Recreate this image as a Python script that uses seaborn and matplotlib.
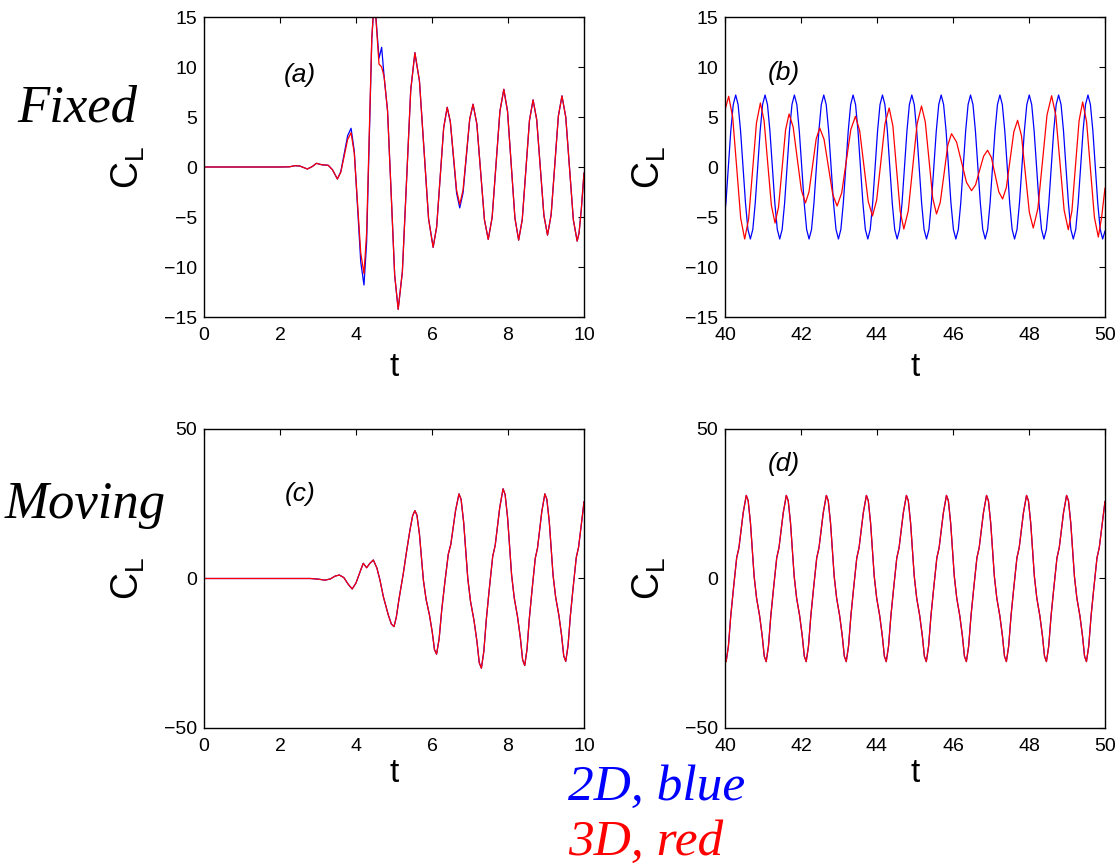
import numpy as np
import matplotlib
matplotlib.use("Agg")
import matplotlib.pyplot as plt
import seaborn as sns

# ---------------------------------------------------------------------------
# Lift coefficient C_L versus time t
# ---------------------------------------------------------------------------

# (a) fixed cylinder, start-up  (0 <= t <= 10)
a_t = [0.0, 1.0, 2.0, 2.25, 2.39, 2.52, 2.72, 2.85, 2.96, 3.09,
       3.27, 3.38, 3.51, 3.60, 3.69, 3.78, 3.87, 3.955, 4.04, 4.125,
       4.21, 4.279, 4.348, 4.416, 4.485, 4.605, 4.675, 4.74, 4.83, 4.925,
       5.018, 5.11, 5.22, 5.33, 5.44, 5.55, 5.67, 5.79, 5.91, 6.03,
       6.1225, 6.215, 6.3075, 6.40, 6.4825, 6.565, 6.6475, 6.73, 6.8175, 6.905,
       6.9925, 7.08, 7.18, 7.28, 7.38, 7.48, 7.5825, 7.685, 7.7875, 7.89,
       7.9875, 8.085, 8.1825, 8.28, 8.375, 8.47, 8.565, 8.66, 8.755, 8.85,
       8.945, 9.04, 9.135, 9.23, 9.325, 9.42, 9.52, 9.62, 9.72, 9.82,
       9.87, 9.93, 10.0]
a_2d = [0.0, 0.0, 0.0, 0.02, 0.13, 0.10, -0.20, 0.05, 0.37, 0.23,
        0.17, -0.27, -1.2, -0.46, 1.33, 3.13, 3.87, 1.58, -3.97, -9.51,
        -11.8, -7.6, 2.6, 12.8, 17.0, 10.87, 11.97, 9.03, 5.63, -2.6,
        -10.83, -14.23, -10.48, -1.4, 7.68, 11.43, 8.59, 1.7, -5.19, -8.03,
        -5.99, -1.03, 3.93, 5.97, 4.5, 0.94, -2.62, -4.09, -2.58, 1.1,
        4.77, 6.28, 4.31, -0.48, -5.27, -7.24, -5.05, 0.27, 5.58, 7.77,
        5.57, 0.23, -5.11, -7.31, -5.26, -0.3, 4.66, 6.71, 4.74, -0.05,
        -4.84, -6.81, -4.78, 0.15, 5.08, 7.11, 4.99, -0.15, -5.29, -7.41,
        -6.6, -4.2, -0.6]
a_3d = [0.0, 0.0, 0.0, 0.02, 0.13, 0.10, -0.20, 0.05, 0.37, 0.23,
        0.17, -0.27, -1.2, -0.52, 1.1, 2.75, 3.43, 1.37, -3.62, -8.61,
        -10.67, -6.63, 3.17, 12.96, 17.0, 10.3, 10.0, 9.03, 5.63, -2.6,
        -10.83, -14.23, -10.48, -1.4, 7.68, 11.43, 8.59, 1.7, -5.19, -8.03,
        -5.99, -1.03, 3.93, 5.97, 4.55, 1.11, -2.33, -3.75, -2.29, 1.27,
        4.82, 6.28, 4.31, -0.48, -5.27, -7.24, -5.05, 0.27, 5.58, 7.77,
        5.57, 0.23, -5.11, -7.31, -5.26, -0.3, 4.66, 6.71, 4.74, -0.05,
        -4.84, -6.81, -4.78, 0.15, 5.08, 7.11, 4.99, -0.15, -5.29, -7.41,
        -6.6, -4.2, -0.6]

# (b) fixed cylinder, late time  (40 <= t <= 50)
b_t_2d = [40.0, 40.024, 40.088, 40.152, 40.217,
          40.281, 40.345, 40.410, 40.474, 40.539, 40.603,
          40.667, 40.732, 40.796, 40.860, 40.925, 40.989,
          41.054, 41.118, 41.182, 41.247, 41.311, 41.376,
          41.440, 41.504, 41.569, 41.633, 41.697, 41.762,
          41.826, 41.891, 41.955, 42.019, 42.084, 42.148,
          42.212, 42.277, 42.341, 42.406, 42.470, 42.534,
          42.599, 42.663, 42.728, 42.792, 42.856, 42.921,
          42.985, 43.049, 43.114, 43.178, 43.243, 43.307,
          43.371, 43.436, 43.500, 43.564, 43.629, 43.693,
          43.758, 43.822, 43.886, 43.951, 44.015, 44.079,
          44.144, 44.208, 44.273, 44.337, 44.401, 44.466,
          44.530, 44.594, 44.659, 44.723, 44.788, 44.852,
          44.916, 44.981, 45.045, 45.110, 45.174, 45.238,
          45.303, 45.367, 45.431, 45.496, 45.560, 45.625,
          45.689, 45.753, 45.818, 45.882, 45.946, 46.011,
          46.075, 46.140, 46.204, 46.268, 46.333, 46.397,
          46.461, 46.526, 46.590, 46.655, 46.719, 46.783,
          46.848, 46.912, 46.976, 47.041, 47.105, 47.170,
          47.234, 47.298, 47.363, 47.427, 47.492, 47.556,
          47.620, 47.685, 47.749, 47.813, 47.878, 47.942,
          48.007, 48.071, 48.135, 48.200, 48.264, 48.329,
          48.393, 48.457, 48.522, 48.586, 48.650, 48.715,
          48.779, 48.844, 48.908, 48.972, 49.037, 49.101,
          49.166, 49.230, 49.294, 49.359, 49.423, 49.487,
          49.552, 49.616, 49.681, 49.745, 49.809, 49.874,
          49.938, 50.0]
b_2d = [-4.4, -3.6, 0.0, 3.6, 6.24,
        7.2, 6.24, 3.6, 0.0, -3.6, -6.24,
        -7.2, -6.24, -3.6, 0.0, 3.6, 6.24,
        7.2, 6.24, 3.6, 0.0, -3.6, -6.24,
        -7.2, -6.24, -3.6, 0.0, 3.6, 6.24,
        7.2, 6.24, 3.6, 0.0, -3.6, -6.24,
        -7.2, -6.24, -3.6, 0.0, 3.6, 6.24,
        7.2, 6.24, 3.6, 0.0, -3.6, -6.24,
        -7.2, -6.24, -3.6, 0.0, 3.6, 6.24,
        7.2, 6.24, 3.6, 0.0, -3.6, -6.24,
        -7.2, -6.24, -3.6, 0.0, 3.6, 6.24,
        7.2, 6.24, 3.6, 0.0, -3.6, -6.24,
        -7.2, -6.24, -3.6, 0.0, 3.6, 6.24,
        7.2, 6.24, 3.6, 0.0, -3.6, -6.24,
        -7.2, -6.24, -3.6, 0.0, 3.6, 6.24,
        7.2, 6.24, 3.6, 0.0, -3.6, -6.24,
        -7.2, -6.24, -3.6, 0.0, 3.6, 6.24,
        7.2, 6.24, 3.6, 0.0, -3.6, -6.24,
        -7.2, -6.24, -3.6, 0.0, 3.6, 6.24,
        7.2, 6.24, 3.6, 0.0, -3.6, -6.24,
        -7.2, -6.24, -3.6, 0.0, 3.6, 6.24,
        7.2, 6.24, 3.6, 0.0, -3.6, -6.24,
        -7.2, -6.24, -3.6, 0.0, 3.6, 6.24,
        7.2, 6.24, 3.6, 0.0, -3.6, -6.24,
        -7.2, -6.24, -3.6, 0.0, 3.6, 6.24,
        7.2, 6.24, 3.6, 0.0, -3.6, -6.24,
        -7.2, -6.4]
b_t_3d = [40.0, 40.097, 40.202, 40.308, 40.413, 40.518, 40.621, 40.725, 40.828,
          40.931, 41.028, 41.124, 41.221, 41.317, 41.409, 41.502, 41.594,
          41.686, 41.794, 41.901, 42.009, 42.116, 42.210, 42.305, 42.399,
          42.493, 42.607, 42.722, 42.836, 42.950, 43.071, 43.192, 43.312,
          43.433, 43.545, 43.657, 43.769, 43.881, 43.991, 44.101, 44.210,
          44.320, 44.417, 44.513, 44.610, 44.706, 44.822, 44.939, 45.055,
          45.171, 45.270, 45.369, 45.467, 45.566, 45.665, 45.764, 45.862,
          45.961, 46.093, 46.225, 46.356, 46.488, 46.594, 46.699, 46.805,
          46.910, 47.009, 47.108, 47.206, 47.305, 47.404, 47.503, 47.601,
          47.700, 47.803, 47.906, 48.009, 48.112, 48.233, 48.354, 48.474,
          48.595, 48.705, 48.815, 48.924, 49.034, 49.129, 49.223, 49.318,
          49.412, 49.515, 49.618, 49.721, 49.824, 49.912, 50.0]
b_3d = [5.7, 7.07, 4.99, -0.07, -5.12, -7.2, -5.21, -0.4, 4.41,
        6.4, 4.65, 0.4, -3.85, -5.6, -4.01, -0.15, 3.71,
        5.3, 4.0, 0.85, -2.3, -3.6, -2.5, 0.15, 2.8,
        3.9, 2.76, 0.0, -2.76, -3.9, -2.59, 0.59, 3.76,
        5.07, 3.61, 0.09, -3.44, -4.9, -3.32, 0.5, 4.32,
        5.9, 4.13, -0.15, -4.43, -6.2, -4.4, -0.05, 4.3,
        6.1, 4.52, 0.7, -3.12, -4.7, -3.53, -0.69, 2.16,
        3.33, 2.5, 0.48, -1.54, -2.37, -1.78, -0.35, 1.08,
        1.67, 0.96, -0.77, -2.49, -3.2, -2.05, 0.74, 3.52,
        4.67, 3.1, -0.72, -4.53, -6.1, -4.17, 0.52, 5.2,
        7.13, 5.17, 0.43, -4.31, -6.27, -4.41, 0.12, 4.63,
        6.5, 4.53, -0.25, -5.03, -7.0, -5.0, -2.1]

# (c) moving cylinder, start-up  (0 <= t <= 10); 2D and 3D coincide
c_t = [0.0, 1.0, 2.0, 2.8, 3.0, 3.18, 3.32, 3.45, 3.56, 3.68,
       3.80, 3.90, 4.00, 4.10, 4.19, 4.28, 4.36, 4.456, 4.55, 4.63,
       4.72, 4.85, 4.93, 5.0, 5.06, 5.13, 5.245, 5.33, 5.42, 5.49,
       5.55, 5.604, 5.67, 5.774, 5.844, 5.933, 6.007, 6.065, 6.12, 6.187,
       6.255, 6.331, 6.429, 6.495, 6.62, 6.71, 6.766, 6.834, 6.942, 7.014,
       7.106, 7.183, 7.243, 7.30, 7.364, 7.43, 7.504, 7.598, 7.663, 7.783,
       7.87, 7.924, 7.99, 8.094, 8.164, 8.253, 8.327, 8.385, 8.44, 8.50,
       8.561, 8.63, 8.717, 8.777, 8.889, 8.97, 9.022, 9.086, 9.186, 9.254,
       9.34, 9.411, 9.467, 9.52, 9.58, 9.641, 9.71, 9.797, 9.857, 9.969,
       10.0]
c_2d = [0.0, 0.0, 0.0, 0.0, -0.2, -0.55, -0.17, 0.8, 1.17, 0.3,
        -2.0, -3.5, -1.5, 2.0, 5.08, 3.6, 5.0, 6.19, 3.5, -0.5,
        -6.1, -12.2, -15.2, -16.1, -13.0, -7.0, 1.7, 9.0, 16.2, 21.0,
        22.7, 21.16, 14.78, -0.63, -6.92, -12.2, -17.96, -23.76, -25.3, -20.26,
        -10.67, -2.04, 8.15, 11.42, 22.73, 28.3, 26.43, 18.68, -0.03, -7.67,
        -14.08, -21.08, -28.13, -30.0, -24.36, -13.62, -3.96, 7.44, 11.1, 23.76,
        30.0, 28.11, 20.25, 1.28, -6.46, -12.97, -20.06, -27.21, -29.1, -23.7,
        -13.43, -4.19, 6.72, 10.22, 22.33, 28.3, 26.51, 19.06, 1.08, -6.25,
        -12.41, -19.13, -25.91, -27.7, -22.46, -12.49, -3.53, 7.06, 10.45, 22.2,
        25.7]
c_3d = list(c_2d)

# (d) moving cylinder, late time  (40 <= t <= 50); 2D and 3D coincide
d_t = [40.000,
       40.030, 40.090, 40.151, 40.220, 40.307, 40.367, 40.479, 40.560,
       40.610, 40.670, 40.766, 40.830, 40.912, 40.980, 41.033,
       41.084, 41.144, 41.205, 41.274, 41.361, 41.421, 41.533, 41.614,
       41.664, 41.724, 41.820, 41.884, 41.966, 42.034, 42.087,
       42.137, 42.197, 42.258, 42.327, 42.414, 42.474, 42.586, 42.667,
       42.717, 42.777, 42.873, 42.937, 43.019, 43.087, 43.140,
       43.191, 43.251, 43.312, 43.381, 43.468, 43.528, 43.640, 43.721,
       43.771, 43.831, 43.927, 43.991, 44.073, 44.141, 44.194,
       44.244, 44.304, 44.365, 44.434, 44.521, 44.581, 44.693, 44.774,
       44.824, 44.884, 44.980, 45.044, 45.126, 45.194, 45.247,
       45.298, 45.358, 45.419, 45.488, 45.575, 45.635, 45.747, 45.828,
       45.878, 45.938, 46.034, 46.098, 46.180, 46.248, 46.301,
       46.352, 46.412, 46.473, 46.542, 46.629, 46.689, 46.801, 46.882,
       46.932, 46.992, 47.088, 47.152, 47.234, 47.302, 47.355,
       47.405, 47.465, 47.526, 47.595, 47.682, 47.742, 47.854, 47.935,
       47.985, 48.045, 48.141, 48.205, 48.287, 48.355, 48.408,
       48.459, 48.519, 48.580, 48.649, 48.736, 48.796, 48.908, 48.989,
       49.039, 49.099, 49.195, 49.259, 49.341, 49.409, 49.462,
       49.512, 49.572, 49.633, 49.702, 49.789, 49.849, 49.961, 50.000]
d_2d = [-27.2,
        -27.8, -22.6, -12.6, -3.7, 6.9, 10.3, 22.0, 27.8,
        26.0, 18.6, 0.8, -6.5, -12.6, -19.3, -26.0,
        -27.8, -22.6, -12.6, -3.7, 6.9, 10.3, 22.0, 27.8,
        26.0, 18.6, 0.8, -6.5, -12.6, -19.3, -26.0,
        -27.8, -22.6, -12.6, -3.7, 6.9, 10.3, 22.0, 27.8,
        26.0, 18.6, 0.8, -6.5, -12.6, -19.3, -26.0,
        -27.8, -22.6, -12.6, -3.7, 6.9, 10.3, 22.0, 27.8,
        26.0, 18.6, 0.8, -6.5, -12.6, -19.3, -26.0,
        -27.8, -22.6, -12.6, -3.7, 6.9, 10.3, 22.0, 27.8,
        26.0, 18.6, 0.8, -6.5, -12.6, -19.3, -26.0,
        -27.8, -22.6, -12.6, -3.7, 6.9, 10.3, 22.0, 27.8,
        26.0, 18.6, 0.8, -6.5, -12.6, -19.3, -26.0,
        -27.8, -22.6, -12.6, -3.7, 6.9, 10.3, 22.0, 27.8,
        26.0, 18.6, 0.8, -6.5, -12.6, -19.3, -26.0,
        -27.8, -22.6, -12.6, -3.7, 6.9, 10.3, 22.0, 27.8,
        26.0, 18.6, 0.8, -6.5, -12.6, -19.3, -26.0,
        -27.8, -22.6, -12.6, -3.7, 6.9, 10.3, 22.0, 27.8,
        26.0, 18.6, 0.8, -6.5, -12.6, -19.3, -26.0,
        -27.8, -22.6, -12.6, -3.7, 6.9, 10.3, 22.0, 25.8]
d_3d = list(d_2d)

# axis settings
fixed_yticks = [-15, -10, -5, 0, 5, 10, 15]
moving_yticks = [-50, 0, 50]
early_xticks = [0, 2, 4, 6, 8, 10]
late_xticks = [40, 42, 44, 46, 48, 50]
panel_tags = ["(a)", "(b)", "(c)", "(d)"]
row_titles = ["Fixed", "Moving"]
series_names = ["2D, blue", "3D, red"]

# ---------------------------------------------------------------------------
sns.set_theme(style="white")
plt.rcParams["font.family"] = ["Liberation Sans", "DejaVu Sans"]
plt.rcParams["mathtext.fontset"] = "custom"
plt.rcParams["mathtext.rm"] = "Liberation Sans"
plt.rcParams["mathtext.it"] = "Liberation Sans:italic"
plt.rcParams["axes.unicode_minus"] = True

W, H = 1120, 864
fig = plt.figure(figsize=(W / 100, H / 100), dpi=100)
fig.patch.set_facecolor("white")


def frame(left, top, right, bottom):
    return [left / W, 1 - bottom / H, (right - left) / W, (bottom - top) / H]


def draw_panel(box, t2, v2, t3, v3, xlim, xticks, ylim, yticks, tag, tag_xy,
               xlabel_y):
    ax = fig.add_axes(frame(*box))
    sns.lineplot(x=np.asarray(t2), y=np.asarray(v2), ax=ax, color=(0, 0, 1),
                 linewidth=0.9, estimator=None, sort=False)
    sns.lineplot(x=np.asarray(t3), y=np.asarray(v3), ax=ax, color=(1, 0, 0),
                 linewidth=0.9, estimator=None, sort=False)
    ax.set_xlim(*xlim)
    ax.set_ylim(*ylim)
    ax.set_xticks(xticks)
    ax.set_yticks(yticks)
    ax.set_xticklabels([str(v) for v in xticks])
    ax.set_yticklabels([str(v).replace("-", "\u2212") for v in yticks])
    for side in ax.spines.values():
        side.set_color("black")
        side.set_linewidth(1.0)
    ax.tick_params(axis="both", direction="in", top=True, right=True,
                   length=4, width=0.8, color="black", labelsize=14,
                   labelcolor="black")
    ax.tick_params(axis="x", pad=7.5)
    ax.tick_params(axis="y", pad=5)
    ax.set_xlabel("t", fontsize=24, color="black")
    ax.xaxis.set_label_coords(0.5, xlabel_y)
    ax.set_ylabel(r"C$_{\mathregular{L}}$", fontsize=27, color="black")
    ax.yaxis.set_label_coords(-0.15, 0.5)
    ax.text(tag_xy[0], tag_xy[1], tag, transform=ax.transAxes, fontsize=19,
            style="italic", ha="center", va="center", color="black")
    ax.grid(False)
    return ax


draw_panel((204, 17, 584, 317), a_t, a_2d, a_t, a_3d, (0, 10), early_xticks,
           (-15, 15), fixed_yticks, panel_tags[0], (0.253, 0.807), -0.115)
draw_panel((725, 17, 1105, 317), b_t_2d, b_2d, b_t_3d, b_3d, (40, 50),
           late_xticks, (-15, 15), fixed_yticks, panel_tags[1], (0.155, 0.813),
           -0.115)
draw_panel((204, 429, 584, 728), c_t, c_2d, c_t, c_3d, (0, 10), early_xticks,
           (-50, 50), moving_yticks, panel_tags[2], (0.253, 0.783), -0.10)
draw_panel((725, 429, 1105, 728), d_t, d_2d, d_t, d_3d, (40, 50), late_xticks,
           (-50, 50), moving_yticks, panel_tags[3], (0.155, 0.883), -0.10)

serif = ["Liberation Serif", "DejaVu Serif"]
fig.text(17 / W, 1 - 122 / H, row_titles[0], family=serif, style="italic",
         fontsize=38, ha="left", va="baseline", color="black")
fig.text(5 / W, 1 - 518 / H, row_titles[1], family=serif, style="italic",
         fontsize=38, ha="left", va="baseline", color="black")
fig.text(568 / W, 1 - 800 / H, series_names[0], family=serif, style="italic",
         fontsize=37, ha="left", va="baseline", color=(0, 0, 1))
fig.text(568 / W, 1 - 855 / H, series_names[1], family=serif, style="italic",
         fontsize=37, ha="left", va="baseline", color=(1, 0, 0))

fig.savefig("out.png", dpi=100, facecolor="white")
